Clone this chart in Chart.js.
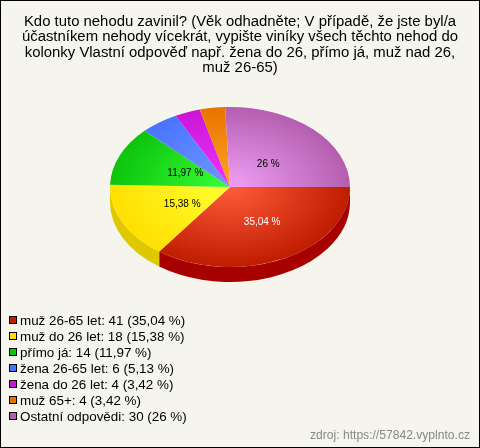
<!doctype html>
<html>
<head>
<meta charset="utf-8">
<title>Kdo tuto nehodu zavinil?</title>
<script src="https://cdn.jsdelivr.net/npm/chart.js@4/dist/chart.umd.min.js"></script>
<style>
html, body { margin: 0; padding: 0; background: #f5f5ee; }
#frame { position: relative; width: 480px; height: 448px; box-sizing: border-box; border: 1px solid #000; overflow: hidden; }
#canvas { position: absolute; left: -1px; top: -1px; }
#legend { position: absolute; left: 8px; top: 312px; font: 13.4px/16px "Liberation Sans", Arial, sans-serif; color: #000; }
#legend div { height: 16px; white-space: nowrap; }
#legend i { display: inline-block; width: 6px; height: 6px; border: 1px solid #000; margin-right: 3px; position: relative; top: -1px; }
#source { position: absolute; right: 9px; top: 427px; font: 12.1px "Liberation Sans", Arial, sans-serif; color: #888; }
</style>
</head>
<body>
<div id="frame">
    <canvas id="canvas" width="480" height="448"></canvas>
    <div id="legend"></div>
    <div id="source">zdroj: https://57842.vyplnto.cz</div>
</div>
<script>
var titleLines = [
    "Kdo tuto nehodu zavinil? (Věk odhadněte; V případě, že jste byl/a",
    "účastníkem nehody vícekrát, vypište viníky všech těchto nehod do",
    "kolonky Vlastní odpověď např. žena do 26, přímo já, muž nad 26,",
    "muž 26-65)"
];
var categories = ["muž 26-65 let", "muž do 26 let", "přímo já", "žena 26-65 let", "žena do 26 let", "muž 65+", "Ostatní odpovědi"];
var counts = [41, 18, 14, 6, 4, 4, 30];
var percents = ["35,04 %", "15,38 %", "11,97 %", "5,13 %", "3,42 %", "3,42 %", "26 %"];
var sliceLabels = ["35,04 %", "15,38 %", "11,97 %", "", "", "", "26 %"];

var rimColors = ["#c01c00", "#ffe000", "#0cc40c", "#4a74ff", "#c916d6", "#e87400", "#b45eb0"];
var hubColors = ["#ff5c3c", "#ffff33", "#38ff38", "#7098ff", "#f034ff", "#ffa424", "#f0a0f6"];
var sideColors = ["#a60000", "#e0c800", "#0a9a0a", "#3a5ac8", "#a010a8", "#b85c00", "#8e4a8c"];
var labelColors = ["#fff", "#000", "#000", "#000", "#000", "#000", "#000"];
var labelReach = [0.5, 0.49, 0.45, 0.45, 0.45, 0.45, 0.4];

var pieCenterX = 230;
var pieCenterY = 187;
var pieRadius = 120;
var tilt = 2 / 3;
var pieDepth = 15;
var labelShiftX = 5;

// the pie lies on its side: squash the circle and add the rim underneath
var tiltPlugin = {
    id: 'tilt',
    beforeDatasetsDraw: function(chart) {
        var ctx = chart.ctx;
        var arcs = chart.getDatasetMeta(0).data;
        ctx.save();
        ctx.translate(pieCenterX - arcs[0].x, pieCenterY);
        ctx.scale(1, tilt);
        ctx.translate(0, -arcs[0].y);
        arcs.forEach(function(arc, i) {
            var from = Math.max(arc.startAngle, 0);
            var to = Math.min(arc.endAngle, Math.PI);
            if (from >= to) return;
            ctx.beginPath();
            ctx.arc(arc.x, arc.y, arc.outerRadius, from, to);
            ctx.arc(arc.x, arc.y + pieDepth / tilt, arc.outerRadius, to, from, true);
            ctx.closePath();
            ctx.fillStyle = sideColors[i];
            ctx.fill();
        });
    },
    afterDatasetsDraw: function(chart) {
        var ctx = chart.ctx;
        ctx.restore();
        ctx.save();
        ctx.font = '10px "Liberation Sans", Arial, sans-serif';
        ctx.textAlign = 'center';
        ctx.textBaseline = 'middle';
        chart.getDatasetMeta(0).data.forEach(function(arc, i) {
            if (!sliceLabels[i]) return;
            var mid = (arc.startAngle + arc.endAngle) / 2;
            var r = arc.outerRadius * labelReach[i];
            ctx.fillStyle = labelColors[i];
            ctx.fillText(sliceLabels[i], pieCenterX + labelShiftX + Math.cos(mid) * r, pieCenterY + Math.sin(mid) * r * tilt);
        });
        ctx.restore();
    }
};

function sliceFill(context) {
    var area = context.chart.chartArea;
    if (!area) return rimColors[context.dataIndex];
    var cx = (area.left + area.right) / 2;
    var cy = (area.top + area.bottom) / 2;
    var g = context.chart.ctx.createRadialGradient(cx, cy, 0, cx, cy, pieRadius);
    g.addColorStop(0, hubColors[context.dataIndex]);
    g.addColorStop(1, rimColors[context.dataIndex]);
    return g;
}

new Chart(document.getElementById("canvas"), {
    type: 'pie',
    data: {
        labels: categories,
        datasets: [{ data: counts, backgroundColor: sliceFill, borderWidth: 0, radius: pieRadius }]
    },
    options: {
        responsive: false,
        animation: false,
        events: [],
        rotation: 90,
        plugins: {
            legend: { display: false },
            tooltip: { enabled: false },
            title: {
                display: true,
                text: titleLines,
                color: '#000',
                font: { family: '"Liberation Sans", Arial, sans-serif', size: 14.9, weight: 'normal', lineHeight: 1.04 },
                padding: { top: 14, bottom: 8 }
            }
        }
    },
    plugins: [tiltPlugin]
});

var legendBox = document.getElementById("legend");
categories.forEach(function(name, i) {
    var row = document.createElement("div");
    var swatch = document.createElement("i");
    swatch.style.background = rimColors[i];
    row.appendChild(swatch);
    row.appendChild(document.createTextNode(name + ": " + counts[i] + " (" + percents[i] + ")"));
    legendBox.appendChild(row);
});
</script>
</body>
</html>
